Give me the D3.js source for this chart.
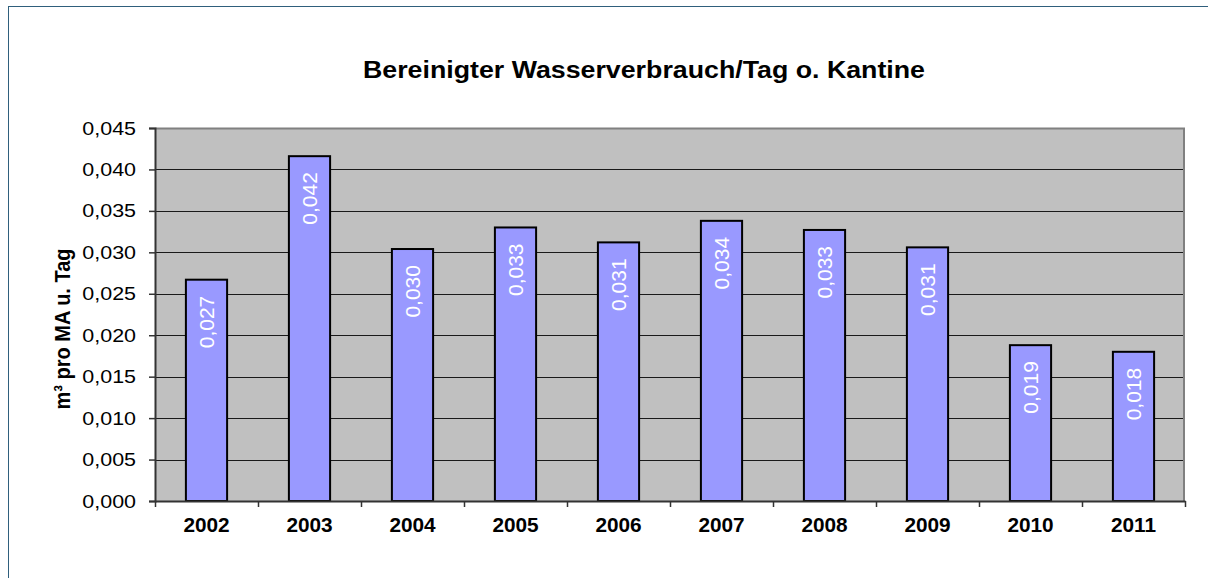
<!DOCTYPE html>
<html>
<head>
<meta charset="utf-8">
<script src="https://cdn.jsdelivr.net/npm/d3@7"></script>
<style>
  body { margin: 0; background: #fff; }
  text { font-family: "Liberation Sans", Arial, sans-serif; }
</style>
</head>
<body>
<div id="wrapper"></div>
<script>
const years = ['2002', '2003', '2004', '2005', '2006', '2007', '2008', '2009', '2010', '2011']
const values = [0.0267, 0.0416, 0.0304, 0.0330, 0.0312, 0.0338, 0.0327, 0.0306, 0.0188, 0.0180]
const yTicks = [0, 0.005, 0.01, 0.015, 0.02, 0.025, 0.03, 0.035, 0.04, 0.045]

const title = 'Bereinigter Wasserverbrauch/Tag o. Kantine'
const yTitle = 'm³ pro MA u. Tag'

// the original chart is stretched a bit horizontally
const stretch = (sel, k) => sel.each(function () {
    const len = this.getComputedTextLength()
    d3.select(this).attr('textLength', len * k).attr('lengthAdjust', 'spacingAndGlyphs')
})

const drawBars = () => {
    const dimensions = {
        width: 1208,
        height: 578,
        margin: { top: 128, right: 23, bottom: 77, left: 155 }
    }
    dimensions.boundedWidth = dimensions.width - dimensions.margin.left - dimensions.margin.right
    dimensions.boundedHeight = dimensions.height - dimensions.margin.top - dimensions.margin.bottom

    const comma = d3.format('.3f')
    const fmt = v => comma(v).replace('.', ',')

    const wrapper = d3.select('#wrapper')
        .append('svg')
        .attr('width', dimensions.width)
        .attr('height', dimensions.height)
        .style('display', 'block')

    // outer frame (only top and left edges are visible)
    wrapper.append('rect')
        .attr('x', 8.5).attr('y', 6.5)
        .attr('width', 1400).attr('height', 800)
        .attr('fill', 'none')
        .attr('stroke', '#2f5f7c')
        .attr('stroke-width', 1)

    wrapper.append('text')
        .text(title)
        .attr('x', 644)
        .attr('y', 78)
        .attr('text-anchor', 'middle')
        .attr('textLength', 562)
        .attr('lengthAdjust', 'spacingAndGlyphs')
        .style('font-size', '23px')
        .style('font-weight', 'bold')

    const bounds = wrapper.append('g')
        .attr('transform', `translate(${dimensions.margin.left}, ${dimensions.margin.top})`)

    const scaleX = d3.scaleBand()
        .domain(years)
        .range([0, dimensions.boundedWidth])
        .paddingInner(0.6)
        .paddingOuter(0.3)

    const scaleY = d3.scaleLinear()
        .domain([0, 0.045])
        .range([dimensions.boundedHeight, 0])

    // plot background
    bounds.append('rect')
        .attr('width', dimensions.boundedWidth)
        .attr('height', dimensions.boundedHeight)
        .attr('fill', '#c0c0c0')

    // grid lines
    bounds.append('g')
        .selectAll('line')
        .data(yTicks.slice(1))
        .join('line')
        .attr('x1', 0)
        .attr('x2', dimensions.boundedWidth)
        .attr('y1', d => Math.round(scaleY(d)) + 0.5)
        .attr('y2', d => Math.round(scaleY(d)) + 0.5)
        .attr('stroke', '#1a1a1a')
        .attr('stroke-width', 1)

    // plot border top / right
    bounds.append('path')
        .attr('d', `M0,0.5H${dimensions.boundedWidth - 1}V${dimensions.boundedHeight}`)
        .attr('fill', 'none')
        .attr('stroke', '#808080')
        .attr('stroke-width', 2)

    // bars
    const barGroups = bounds.append('g')
        .selectAll('g')
        .data(years.map((y, i) => ({ year: y, value: values[i] })))
        .join('g')

    barGroups.append('rect')
        .attr('x', d => scaleX(d.year))
        .attr('y', d => scaleY(d.value))
        .attr('width', scaleX.bandwidth())
        .attr('height', d => dimensions.boundedHeight - scaleY(d.value))
        .attr('fill', '#9999ff')
        .attr('stroke', '#000')
        .attr('stroke-width', 2)

    barGroups.append('text')
        .text(d => fmt(d.value))
        .attr('transform', d => `translate(${scaleX(d.year) + scaleX.bandwidth() / 2}, ${scaleY(d.value) + 16}) rotate(-90)`)
        .attr('text-anchor', 'end')
        .attr('dy', '0.36em')
        .attr('fill', '#fff')
        .style('font-size', '21px')

    // axes
    const yAxisGenerator = d3.axisLeft(scaleY)
        .tickValues(yTicks)
        .tickFormat(fmt)
        .tickSizeOuter(0)
        .tickSize(6)
        .tickPadding(13)
    const yAxis = bounds.append('g').call(yAxisGenerator)
    yAxis.select('.domain').attr('stroke', '#333').attr('stroke-width', 2)
    yAxis.selectAll('.tick line').attr('stroke', '#333').attr('stroke-width', 1.5)
    yAxis.selectAll('.tick text')
        .style('font-size', '19px')
        .style('font-family', '"Liberation Sans", Arial, sans-serif')
        .attr('fill', '#000')
        .call(stretch, 1.13)

    const xAxisGenerator = d3.axisBottom(scaleX).tickSize(0).tickPadding(17)
    const xAxis = bounds.append('g')
        .attr('transform', `translate(0, ${dimensions.boundedHeight})`)
        .call(xAxisGenerator)
    xAxis.select('.domain').attr('stroke', '#333').attr('stroke-width', 2)
    xAxis.selectAll('.tick text')
        .style('font-size', '20px')
        .style('font-weight', 'bold')
        .style('font-family', '"Liberation Sans", Arial, sans-serif')
        .attr('fill', '#000')
        .call(stretch, 1.04)

    // category separator ticks
    const step = dimensions.boundedWidth / years.length
    bounds.append('g')
        .selectAll('line')
        .data(d3.range(years.length + 1))
        .join('line')
        .attr('x1', i => Math.round(i * step) + 0.5)
        .attr('x2', i => Math.round(i * step) + 0.5)
        .attr('y1', dimensions.boundedHeight)
        .attr('y2', dimensions.boundedHeight + 6)
        .attr('stroke', '#333')
        .attr('stroke-width', 1.5)

    wrapper.append('text')
        .text(yTitle)
        .attr('transform', `translate(70, 329) rotate(-90) scale(1, 1.13)`)
        .attr('text-anchor', 'middle')
        .style('font-size', '20px')
        .style('font-weight', 'bold')
}
drawBars()
</script>
</body>
</html>
